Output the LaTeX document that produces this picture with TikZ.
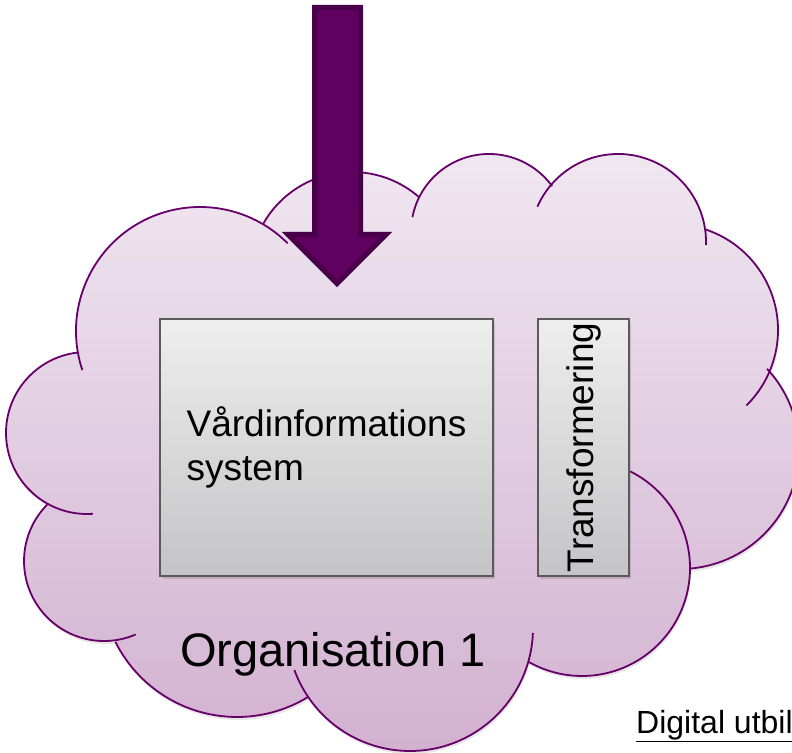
\documentclass[tikz,border=0pt]{standalone}
\usepackage{fontspec}
\setmainfont{Liberation Sans}
\usetikzlibrary{calc,shadows}
\definecolor{cloudtop}{RGB}{240,232,241}
\definecolor{cloudbottom}{RGB}{210,176,208}
\definecolor{cloudline}{RGB}{102,0,104}
\definecolor{arrowfill}{RGB}{96,0,96}
\definecolor{arrowline}{RGB}{72,0,72}
\definecolor{boxtop}{RGB}{238,238,238}
\definecolor{boxbottom}{RGB}{196,196,198}
\definecolor{boxline}{RGB}{90,90,90}

\begin{document}
\begin{tikzpicture}[x=1pt, y=1pt,
    cloudshade/.style={top color=cloudtop, bottom color=cloudbottom,
      drop shadow={opacity=0.2, shadow xshift=1pt, shadow yshift=-3pt}},
    lobe/.style={draw=cloudline, line width=1.8pt},
    sysbox/.style={draw=boxline, line width=1.5pt, top color=boxtop, bottom color=boxbottom,
      minimum height=257pt,
      drop shadow={opacity=0.3, shadow xshift=2pt, shadow yshift=-3pt}},
    bigarrow/.style={fill=arrowfill, draw=arrowline, line width=5pt},
    label/.style={inner sep=0pt, anchor=base west}]
    \useasboundingbox (0,0) rectangle (792,752);

    % Cloud
    \path[cloudshade]
      ($(200,421)+(190:124)$) arc[start angle=190, end angle=59.5, radius=124]
      -- ($(352,478)+(150.7:102)$) arc[start angle=150.7, end angle=48.7, radius=102]
      -- ($(489,520)+(155:78)$) arc[start angle=155, end angle=36, radius=78]
      -- ($(618,510)+(140.6:88)$) arc[start angle=140.6, end angle=8.4, radius=88]
      -- ($(672,422)+(71.4:106)$) arc[start angle=71.4, end angle=-20.9, radius=106]
      -- ($(680,302)+(43:119)$) arc[start angle=43, end angle=-85.6, radius=119]
      -- ($(582,184)+(0:108)$) arc[start angle=0, end angle=-119.4, radius=108]
      -- ($(410,124)+(-16:123)$) arc[start angle=-16, end angle=-146, radius=123]
      -- ($(237,171)+(-58.5:136)$) arc[start angle=-58.5, end angle=-153.4, radius=136]
      -- ($(104,191)+(-82:80)$) arc[start angle=-82, end angle=-225, radius=80]
      -- ($(87,319)+(-118.4:81)$) arc[start angle=-118.4, end angle=-263.6, radius=81]
      -- cycle;

    % Cloud outline
    \foreach \cx/\cy/\r/\sa/\ea in {200/421/124/198.4/45, 352/478/102/150.7/48.7,
        489/520/78/169/36, 618/510/88/156.4/-2, 672/422/106/71.4/-45.4,
        680/302/119/43/-85.6, 582/184/108/64.4/-119.4, 410/124/123/-2.3/-160,
        237/171/136/-58.5/-153.4, 104/191/80/-66.7/-225, 87/319/81/-85.8/-263.6}
      \draw[lobe] ($(\cx,\cy)+(\sa:\r)$) arc[start angle=\sa, end angle=\ea, radius=\r];

    % Arrow
    \draw[bigarrow] (314.5,744.5) -- (360.5,744.5) -- (360.5,517.5) -- (386,517.5)
      -- (337,468.5) -- (288,517.5) -- (314.5,517.5) -- cycle;

    % Vaardinformationssystem
    \node[sysbox, minimum width=333pt, align=left, font=\fontsize{37}{44.4}\selectfont]
      (vis) at (326.5,304.5) {Vårdinformations\\system};

    % Transformering
    \node[sysbox, minimum width=91pt] (transf) at (583.5,304.5) {};
    \node[rotate=90, inner sep=0pt, font=\fontsize{37}{44.4}\selectfont]
      (transftext) at (transf.center) {Transformering};

    % Organisation
    \node[label, font=\fontsize{47}{56}\selectfont] (org) at (180,85) {Organisation 1};

    % Footer
    \node[label, font=\fontsize{32}{38}\selectfont] (footer) at (636,19) {\underline{Digital utbil}};
\end{tikzpicture}
\end{document}
